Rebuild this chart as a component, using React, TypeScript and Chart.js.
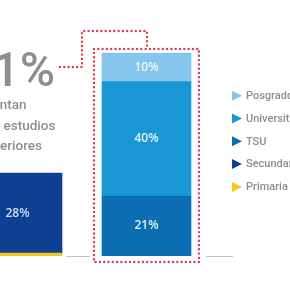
import React, { useEffect, useRef } from "react";
import { Chart, registerables } from "chart.js";

Chart.register(...registerables);

// ---- data ----
const categories = ["Básica", "Superior"];
const primaria = [1, null];
const secundaria = [28, null];
const tsu = [null, 21];
const universitaria = [null, 40];
const posgrado = [null, 10];
const seriesNames = ["Primaria", "Secundaria", "TSU", "Universitaria", "Posgrado"];
const seriesColors = ["#f2c81c", "#0d3f93", "#0c6db2", "#1a98d6", "#86c6ec"];
const legendOrder = ["Posgrado", "Universitaria", "TSU", "Secundaria", "Primaria"];
const headline = "71%";
const subLines = ["cuentan", "con estudios", "superiores"];

const OX = 47; // canvas is shifted left by this many px
const CW = 400;
const CH = 290;

const decor = {
  id: "decor",
  afterDatasetsDraw(chart: any) {
    const ctx = chart.ctx;
    const P = (x: number) => x + OX;
    const metas = [0, 1, 2, 3, 4].map((i) => chart.getDatasetMeta(i));
    // value labels
    ctx.save();
    ctx.font = '600 12px "Open Sans"';
    ctx.textAlign = "center";
    ctx.textBaseline = "middle";
    metas.forEach((m: any, di: number) => {
      const ds = chart.data.datasets[di];
      m.data.forEach((el: any, j: number) => {
        const v = ds.data[j];
        if (v == null || v < 5) return;
        ctx.fillStyle = di === 1 ? "rgba(215,228,245,0.95)" : "rgba(240,248,255,0.95)";
        ctx.fillText(v + "%", el.x, (el.y + el.base) / 2);
      });
    });
    ctx.restore();

    const leftEl = metas[1].data[0];
    const topEl = metas[4].data[1];
    const baseEl = metas[2].data[1];
    const bl = topEl.x - topEl.width / 2;
    const br = topEl.x + topEl.width / 2;
    const rL = Math.round(bl - 8);
    const rR = Math.round(br + 8);
    const rT = Math.round(topEl.y - 4);
    const rB = Math.round(baseEl.base + 6);
    const zeroY = chart.scales.y.getPixelForValue(0);
    const leftRight = leftEl.x + leftEl.width / 2;

    // gray baseline
    ctx.save();
    ctx.strokeStyle = "#c4c4c4";
    ctx.lineWidth = 1;
    ctx.beginPath();
    ctx.moveTo(leftRight + 4, zeroY + 0.5);
    ctx.lineTo(rL - 4, zeroY + 0.5);
    ctx.moveTo(rR + 7, zeroY + 0.5);
    ctx.lineTo(rR + 34, zeroY + 0.5);
    ctx.stroke();
    ctx.restore();

    // red dotted frame and connector
    ctx.save();
    ctx.strokeStyle = "#d93a4d";
    ctx.lineWidth = 2.4;
    ctx.lineCap = "round";
    ctx.setLineDash([0, 4.3]);
    ctx.beginPath();
    ctx.moveTo(rL, rT);
    ctx.lineTo(rR, rT);
    ctx.lineTo(rR, rB);
    ctx.lineTo(rL, rB);
    ctx.closePath();
    ctx.stroke();
    const cx = Math.round(rL - 12);
    const hy = 67;
    const ty = 31;
    ctx.beginPath();
    ctx.moveTo(P(60), hy);
    ctx.lineTo(cx, hy);
    ctx.lineTo(cx, ty);
    ctx.lineTo(Math.round(topEl.x), ty);
    ctx.lineTo(Math.round(topEl.x), rT - 3);
    ctx.stroke();
    ctx.restore();

    // headline text
    ctx.save();
    ctx.fillStyle = "#8c8f92";
    ctx.font = '500 48px Roboto';
    ctx.textAlign = "right";
    ctx.textBaseline = "alphabetic";
    ctx.fillText(headline, P(55), 86);
    ctx.font = '500 13.5px Roboto';
    ctx.textAlign = "left";
    subLines.forEach((t, i) => ctx.fillText(t, P(-22), 109 + i * 20.5));
    ctx.restore();

    // legend
    ctx.save();
    ctx.font = '500 11px Roboto';
    ctx.textAlign = "left";
    ctx.textBaseline = "middle";
    legendOrder.forEach((name, i) => {
      const y = 95.7 + i * 22.8;
      const col = seriesColors[seriesNames.indexOf(name)];
      ctx.fillStyle = col;
      ctx.beginPath();
      ctx.moveTo(P(232), y - 5);
      ctx.lineTo(P(242), y);
      ctx.lineTo(P(232), y + 5);
      ctx.closePath();
      ctx.fill();
      ctx.fillStyle = "#8b8e91";
      ctx.fillText(name, P(246), y + 0.5);
    });
    ctx.restore();
  },
};

export default function App() {
  const ref = useRef<HTMLCanvasElement>(null);
  useEffect(() => {
    if (!ref.current) return;
    const seriesData = [primaria, secundaria, tsu, universitaria, posgrado];
    const chart = new Chart(ref.current, {
      type: "bar",
      data: {
        labels: categories,
        datasets: seriesNames.map((n, i) => ({
          label: n,
          data: seriesData[i] as any,
          backgroundColor: seriesColors[i],
          borderWidth: 0,
          barThickness: 89,
        })),
      },
      options: {
        responsive: false,
        animation: false,
        layout: { padding: { left: 0, right: 142, top: 27.3, bottom: 34 } },
        scales: {
          x: { stacked: true, display: false },
          y: { stacked: true, display: false, min: 0, max: 80 },
        },
        plugins: { legend: { display: false }, tooltip: { enabled: false } },
      },
      plugins: [decor],
    });
    return () => chart.destroy();
  }, []);
  return (
    <div style={{ position: "fixed", left: -OX, top: 0, width: CW, height: CH, background: "#fff" }}>
      <canvas ref={ref} width={CW} height={CH} style={{ width: CW, height: CH, display: "block" }} />
    </div>
  );
}
